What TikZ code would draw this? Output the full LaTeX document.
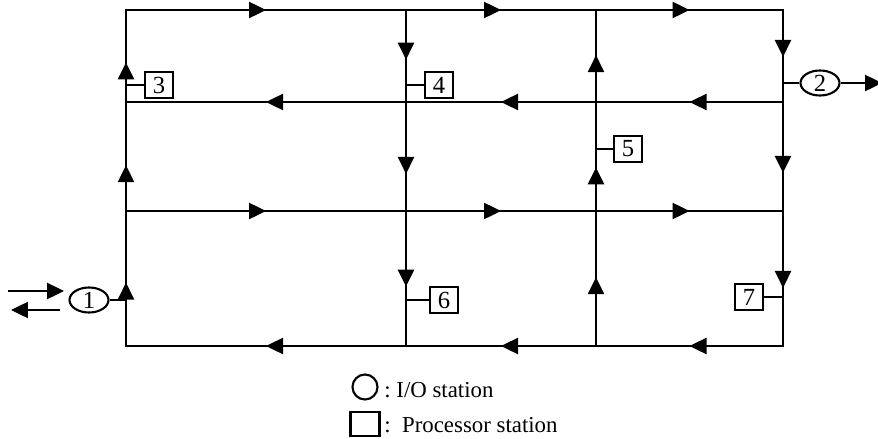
\documentclass[tikz,border=0pt]{standalone}
\usepackage{fontspec}
\setmainfont{Liberation Serif}
\usetikzlibrary{arrows.meta,decorations.markings,shapes.geometric}

\tikzset{
	track/.style={line width=1.4pt,line cap=rect},
	flow/.style={postaction={decorate,decoration={markings,
		mark=at position #1 with {\arrow{Triangle[length=0.34cm,width=0.32cm]}}}}},
	flow/.default=0.5,
	iostation/.style={draw,ellipse,line width=1.2pt,minimum width=0.78cm,minimum height=0.5cm,
		inner sep=0pt,font=\fontsize{14}{14}\selectfont},
	procstation/.style={draw,rectangle,line width=1.2pt,minimum width=0.56cm,minimum height=0.52cm,
		inner sep=0pt,font=\fontsize{14}{14}\selectfont},
	keytext/.style={anchor=base west,inner sep=0pt,font=\fontsize{13}{13}\selectfont},
}

\begin{document}
\begin{tikzpicture}[x=0.02cm,y=-0.02cm]
		\useasboundingbox (0,0) rectangle (878,439);

		% grid of tracks
		\coordinate (a1) at (126,10);  \coordinate (b1) at (406,10);  \coordinate (c1) at (596,10);  \coordinate (d1) at (783,10);
		\coordinate (a2) at (126,102); \coordinate (b2) at (406,102); \coordinate (c2) at (596,102); \coordinate (d2) at (783,102);
		\coordinate (a3) at (126,211); \coordinate (b3) at (406,211); \coordinate (c3) at (596,211); \coordinate (d3) at (783,211);
		\coordinate (a4) at (126,346); \coordinate (b4) at (406,346); \coordinate (c4) at (596,346); \coordinate (d4) at (783,346);

		\begin{scope}[track]
		    \draw[flow] (a1) -- (b1);
		    \draw[flow] (b1) -- (c1);
		    \draw[flow] (c1) -- (d1);
		    \draw[flow] (d2) -- (c2);
		    \draw[flow] (c2) -- (b2);
		    \draw[flow] (b2) -- (a2);
		    \draw[flow] (a3) -- (b3);
		    \draw[flow] (b3) -- (c3);
		    \draw[flow] (c3) -- (d3);
		    \draw[flow] (d4) -- (c4);
		    \draw[flow] (c4) -- (b4);
		    \draw[flow] (b4) -- (a4);

		    \draw[flow=0.47] (a4) -- (a3);
		    \draw[flow=0.42] (a3) -- (a2);
		    \draw[flow=0.43] (a2) -- (a1);
		    \draw[flow=0.54] (b1) -- (b2);
		    \draw[flow=0.66] (b2) -- (b3);
		    \draw[flow=0.56] (b3) -- (b4);
		    \draw[flow=0.51] (c4) -- (c3);
		    \draw[flow=0.40] (c3) -- (c2);
		    \draw[flow=0.51] (c2) -- (c1);
		    \draw[flow=0.51] (d1) -- (d2);
		    \draw[flow=0.65] (d2) -- (d3);
		    \draw[flow=0.57] (d3) -- (d4);
		\end{scope}

		% stations
		\node[iostation] (io1) at (89,300) {1};
		\node[iostation] (io2) at (820,83) {2};
		\node[procstation] (p3) at (159,85) {3};
		\node[procstation] (p4) at (439,85) {4};
		\node[procstation] (p5) at (628,149) {5};
		\node[procstation] (p6) at (444,300) {6};
		\node[procstation] (p7) at (749,297) {7};

		\coordinate (s1) at (126,300);
		\coordinate (s2) at (783,83);
		\coordinate (s3) at (126,85);
		\coordinate (s4) at (406,85);
		\coordinate (s5) at (596,149);
		\coordinate (s6) at (406,300);
		\coordinate (s7) at (783,297);
		\begin{scope}[line width=1.3pt]
		    \draw (io1) -- (s1);
		    \draw (io2) -- (s2);
		    \draw (p3) -- (s3);
		    \draw (p4) -- (s4);
		    \draw (p5) -- (s5);
		    \draw (p6) -- (s6);
		    \draw (p7) -- (s7);
		\end{scope}

		% in and out
		\coordinate (inA) at (8,291);
		\coordinate (inB) at (64,291);
		\coordinate (outA) at (60,310);
		\coordinate (outB) at (11,310);
		\coordinate (exit) at (882,83);
		\begin{scope}[line width=1.4pt,-{Triangle[length=0.34cm,width=0.32cm]}]
		    \draw (inA) -- (inB);
		    \draw (outA) -- (outB);
		    \draw (io2) -- (exit);
		\end{scope}

		% key
		\node[draw,circle,line width=1.2pt,minimum size=0.5cm,inner sep=0pt] (keyio) at (365,387) {};
		\node[draw,rectangle,line width=1.2pt,minimum width=0.58cm,minimum height=0.48cm,inner sep=0pt] (keyproc) at (365,424) {};
		\node[keytext] (keyiotext) at (384,397) {:\ I/O station};
		\node[keytext] (keyproctext) at (384,432) {:\ \ Processor station};
	    \end{tikzpicture}
\end{document}
